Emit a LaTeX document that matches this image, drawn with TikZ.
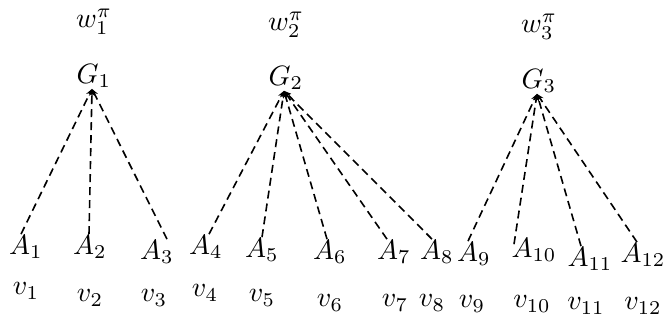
\documentclass[tikz,border=0pt]{standalone}
\usetikzlibrary{arrows.meta}
\newcommand{\mylab}[1]{\scalebox{2.8}{$#1$}}
\begin{document}
\begin{tikzpicture}[x=1pt,y=-1pt,
  lab/.style={inner sep=1pt},
  edge/.style={line width=1.6pt,dash pattern=on 8pt off 5pt,-{Stealth[length=7pt,width=6pt]}}]
\useasboundingbox (0,0) rectangle (666,322);
% weights
\node[lab] (w1) at (94,22) {\mylab{w_1^\pi}};
\node[lab] (w2) at (286,25) {\mylab{w_2^\pi}};
\node[lab] (w3) at (539,27) {\mylab{w_3^\pi}};
% groups
\node[lab] (G1) at (94,76) {\mylab{G_1}};
\node[lab] (G2) at (286,78) {\mylab{G_2}};
\node[lab] (G3) at (539,81) {\mylab{G_3}};
% items
\node[lab] (A1) at (26,247) {\mylab{A_1}};
\node[lab] (A2) at (90,247) {\mylab{A_2}};
\node[lab] (A3) at (157,252) {\mylab{A_3}};
\node[lab] (A4) at (206,247) {\mylab{A_4}};
\node[lab] (A5) at (262,250) {\mylab{A_5}};
\node[lab] (A6) at (330,252) {\mylab{A_6}};
\node[lab] (A7) at (394,252) {\mylab{A_7}};
\node[lab] (A8) at (437,252) {\mylab{A_8}};
\node[lab] (A9) at (474,254) {\mylab{A_9}};
\node[lab] (A10) at (534,250) {\mylab{A_{10}}};
\node[lab] (A11) at (590,259) {\mylab{A_{11}}};
\node[lab] (A12) at (643,255) {\mylab{A_{12}}};
% values
\node[lab] (v1) at (26,291) {\mylab{v_1}};
\node[lab] (v2) at (90,298) {\mylab{v_2}};
\node[lab] (v3) at (154,298) {\mylab{v_3}};
\node[lab] (v4) at (205,293) {\mylab{v_4}};
\node[lab] (v5) at (262,298) {\mylab{v_5}};
\node[lab] (v6) at (330,303) {\mylab{v_6}};
\node[lab] (v7) at (395,303) {\mylab{v_7}};
\node[lab] (v8) at (432,303) {\mylab{v_8}};
\node[lab] (v9) at (472,304) {\mylab{v_9}};
\node[lab] (v10) at (532,304) {\mylab{v_{10}}};
\node[lab] (v11) at (586,306) {\mylab{v_{11}}};
\node[lab] (v12) at (643,306) {\mylab{v_{12}}};
% connectors
\draw[edge] ([xshift=-5pt]A1.north) -- ([xshift=-2pt]G1.south);
\draw[edge] ([xshift=-1pt]A2.north) -- ([xshift=-2pt]G1.south);
\draw[edge] ([xshift=10pt]A3.north) -- ([xshift=-2pt]G1.south);
\draw[edge] ([xshift=3pt]A4.north) -- ([xshift=-2pt]G2.south);
\draw[edge] ([xshift=0pt]A5.north) -- ([xshift=-2pt]G2.south);
\draw[edge] ([xshift=-3pt]A6.north) -- ([xshift=-2pt]G2.south);
\draw[edge] ([xshift=-7pt]A7.north) -- ([xshift=-2pt]G2.south);
\draw[edge] ([xshift=-5pt]A8.north) -- ([xshift=-2pt]G2.south);
\draw[edge] ([xshift=-6pt]A9.north) -- ([xshift=-2pt]G3.south);
\draw[edge] ([xshift=-20pt,yshift=-7pt]A10.north) -- ([xshift=-2pt]G3.south);
\draw[edge] ([xshift=-9pt]A11.north) -- ([xshift=-2pt]G3.south);
\draw[edge] ([xshift=-6pt]A12.north) -- ([xshift=-2pt]G3.south);
\end{tikzpicture}
\end{document}
